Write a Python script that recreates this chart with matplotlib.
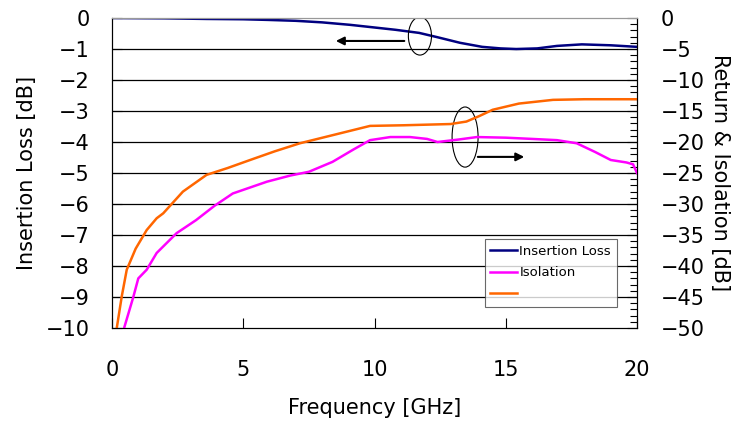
import matplotlib.pyplot as plt
from matplotlib.patches import Ellipse

# Insertion loss (left axis, dB)
il_freq = [0, 2, 3.6, 5.0, 5.9, 7.0, 8.0, 9.07, 9.83, 10.8, 11.7, 12.4, 13.26, 14.1, 14.8, 15.4, 16.2, 16.95, 17.9, 19.0, 20]
il_db = [0, -0.01, -0.03, -0.04, -0.06, -0.09, -0.14, -0.22, -0.29, -0.38, -0.48, -0.62, -0.8, -0.93, -0.98, -1.0, -0.98, -0.9, -0.85, -0.88, -0.93]

# Isolation (right axis, dB)
iso_freq = [0.46, 0.81, 1.0, 1.32, 1.7, 2.46, 3.2, 3.9, 4.6, 5.9, 6.8, 7.5, 8.4, 9.2, 9.83, 10.6, 11.35, 12.0, 12.4, 13.2, 13.9, 15.0, 16.0, 16.95, 17.7, 18.4, 19.0, 19.6, 19.85, 20]
iso_db = [-50, -45, -42, -40.6, -37.9, -34.7, -32.6, -30.3, -28.3, -26.4, -25.4, -24.8, -23.2, -21.2, -19.7, -19.2, -19.2, -19.5, -20, -19.6, -19.2, -19.3, -19.5, -19.7, -20.2, -21.6, -22.9, -23.3, -23.6, -25]

# Return loss (right axis, dB)
rl_freq = [0.18, 0.37, 0.56, 0.9, 1.32, 1.7, 1.95, 2.7, 3.6, 4.4, 5.26, 6.2, 7.16, 8.4, 9.83, 11.1, 12.0, 12.9, 13.5, 14.0, 14.5, 15.5, 16.8, 18.0, 20]
rl_db = [-50, -44.9, -40.6, -37.2, -34.2, -32.3, -31.5, -28, -25.3, -24.2, -22.9, -21.5, -20.2, -18.9, -17.4, -17.3, -17.2, -17.1, -16.7, -15.8, -14.8, -13.8, -13.2, -13.1, -13.1]

freq_ticks = [0, 5, 10, 15, 20]
il_ticks = list(range(0, -11, -1))
rl_ticks = list(range(0, -51, -5))

fig = plt.figure(figsize=(7.42, 4.24), dpi=100)
ax = fig.add_axes([0.151, 0.2264, 0.7075, 0.7311])
ax2 = ax.twinx()

fs = 15

l1, = ax.plot(il_freq, il_db, color='#000080', lw=1.8, label='Insertion Loss')
l2, = ax2.plot(iso_freq, iso_db, color='#ff00ff', lw=1.8, label='Isolation')
l3, = ax2.plot(rl_freq, rl_db, color='#ff6600', lw=1.8, label=' ')

ax.set_xlim(0, 20)
ax.set_ylim(-10, 0)
ax2.set_ylim(-50, 0)
ax.set_xticks(freq_ticks)
ax.set_yticks(il_ticks)
ax.set_yticks([v * 0.2 for v in range(0, -51)], minor=True)
ax2.set_yticks(rl_ticks)
ax2.set_yticks(list(range(0, -51, -1)), minor=True)

for v in il_ticks[1:-1]:
    ax.axhline(v, color='black', lw=0.9, zorder=0)

ax.tick_params(axis='x', direction='in', length=7, width=0.8, labelsize=fs, pad=23)
ax.tick_params(axis='y', which='major', direction='in', length=7, width=0.8, labelsize=fs, pad=16)
ax.tick_params(axis='y', which='minor', direction='in', length=5, width=0.8)
ax2.tick_params(axis='y', which='major', direction='in', length=7, width=0.8, labelsize=fs, pad=17)
ax2.tick_params(axis='y', which='minor', direction='in', length=5, width=0.8)

for a in (ax, ax2):
    for s in a.spines.values():
        s.set_linewidth(0.8)
    a.spines['top'].set_color('#999999')

ax.set_xlabel('Frequency [GHz]', fontsize=fs, labelpad=13)
ax.set_ylabel('Insertion Loss [dB]', fontsize=fs, labelpad=6)
ax2.set_ylabel('Return & Isolation [dB]', fontsize=fs, rotation=270, labelpad=18)

# annotation marks (left-axis data coords)
ax.add_patch(Ellipse((11.73, -0.58), 0.88, 1.23, fill=False, lw=0.8, color='black', zorder=5))
ax.add_patch(Ellipse((13.45, -3.84), 0.99, 1.94, fill=False, lw=0.8, color='black', zorder=5))
ax.annotate('', xy=(8.42, -0.74), xytext=(11.24, -0.74),
            arrowprops=dict(arrowstyle='-|>', color='black', lw=1.5, mutation_scale=12))
ax.annotate('', xy=(15.81, -4.48), xytext=(13.83, -4.48),
            arrowprops=dict(arrowstyle='-|>', color='black', lw=1.5, mutation_scale=12))

leg = ax2.legend(handles=[l1, l2, l3], loc='lower right', bbox_to_anchor=(0.962, 0.068),
                 borderaxespad=0, fontsize=9.5, frameon=True, fancybox=False, edgecolor='#444444',
                 handlelength=2.0, handletextpad=0.2, borderpad=0.45, labelspacing=0.65)
leg.get_frame().set_linewidth(0.8)

fig.savefig('out.png', dpi=100)
